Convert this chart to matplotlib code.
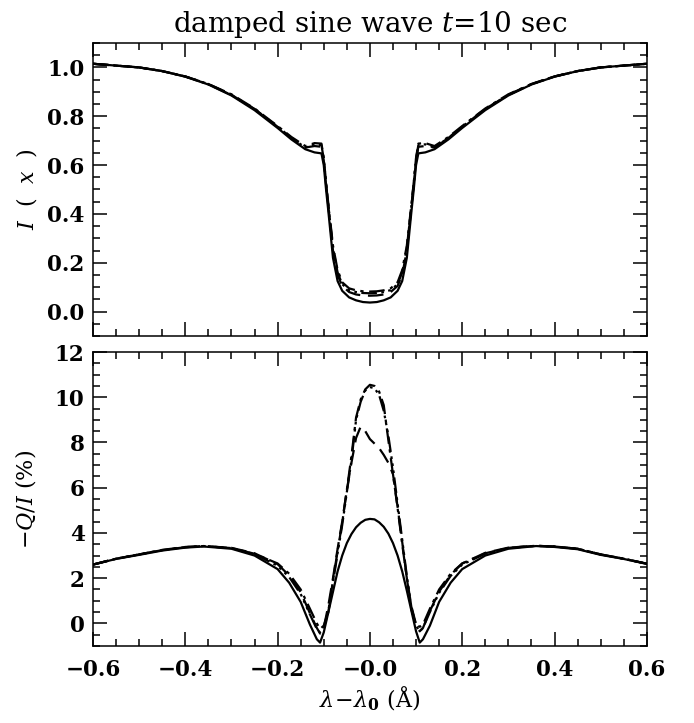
import matplotlib

matplotlib.use("Agg")
import matplotlib.pyplot as plt  # noqa: E402
from matplotlib.ticker import MultipleLocator  # noqa: E402

# ---- top panel: intensity profiles ----
x_top = [-0.6, -0.5, -0.45, -0.4, -0.35, -0.3, -0.25, -0.2, -0.17, -0.14, -0.12,
         -0.105, -0.1, -0.095, -0.09, -0.08, -0.07, -0.06, -0.045, -0.03, -0.015, 0.0,
         0.015, 0.03, 0.045, 0.06, 0.07, 0.08, 0.09, 0.095, 0.1, 0.105, 0.12, 0.14,
         0.17, 0.2, 0.25, 0.3, 0.35, 0.4, 0.45, 0.5, 0.6]
i_solid = [1.015, 1.0, 0.985, 0.962, 0.93, 0.885, 0.825, 0.752, 0.705, 0.665, 0.652,
           0.648, 0.60, 0.50, 0.41, 0.22, 0.125, 0.085, 0.058, 0.046, 0.039, 0.037,
           0.039, 0.046, 0.058, 0.085, 0.125, 0.22, 0.41, 0.50, 0.60, 0.648, 0.652, 0.665,
           0.705, 0.752, 0.825, 0.885, 0.93, 0.962, 0.985, 1.0, 1.015]
i_dash = [1.015, 1.0, 0.985, 0.963, 0.932, 0.888, 0.83, 0.757, 0.71, 0.672, 0.678,
          0.675, 0.62, 0.52, 0.43, 0.25, 0.15, 0.105, 0.08, 0.07, 0.066, 0.065,
          0.066, 0.07, 0.08, 0.105, 0.15, 0.25, 0.43, 0.52, 0.62, 0.675, 0.678, 0.672,
          0.71, 0.757, 0.83, 0.888, 0.932, 0.963, 0.985, 1.0, 1.015]
i_dashdot = [1.015, 1.0, 0.985, 0.963, 0.932, 0.89, 0.832, 0.76, 0.715, 0.678, 0.69,
             0.688, 0.63, 0.53, 0.44, 0.27, 0.17, 0.12, 0.095, 0.087, 0.083, 0.082,
             0.083, 0.087, 0.095, 0.12, 0.17, 0.27, 0.44, 0.53, 0.63, 0.688, 0.69, 0.678,
             0.715, 0.76, 0.832, 0.89, 0.932, 0.963, 0.985, 1.0, 1.015]
i_dash3dot = [1.015, 1.0, 0.985, 0.963, 0.931, 0.887, 0.829, 0.758, 0.711, 0.672, 0.685,
              0.682, 0.625, 0.525, 0.435, 0.26, 0.16, 0.112, 0.088, 0.08, 0.076, 0.075,
              0.076, 0.08, 0.088, 0.112, 0.16, 0.26, 0.435, 0.525, 0.625, 0.682, 0.685, 0.672,
              0.711, 0.758, 0.829, 0.887, 0.931, 0.963, 0.985, 1.0, 1.015]

# ---- bottom panel: -Q/I in percent ----
x_bot = [-0.6, -0.55, -0.5, -0.45, -0.4, -0.36, -0.3, -0.25, -0.2, -0.175, -0.15, -0.13,
         -0.115, -0.108, -0.1, -0.09, -0.08, -0.07, -0.06, -0.05, -0.04, -0.03, -0.02,
         -0.01, 0.0, 0.01, 0.02, 0.03, 0.04, 0.05, 0.06, 0.07, 0.08, 0.09, 0.1, 0.108,
         0.115, 0.13, 0.15, 0.175, 0.2, 0.25, 0.3, 0.36, 0.4, 0.45, 0.5, 0.55, 0.6]
q_solid = [2.6, 2.85, 3.03, 3.22, 3.35, 3.4, 3.3, 3.0, 2.4, 1.8, 0.95, -0.05,
           -0.7, -0.85, -0.4, 0.5, 1.4, 2.3, 3.0, 3.55, 3.95, 4.25, 4.45,
           4.58, 4.62, 4.6, 4.47, 4.27, 3.97, 3.55, 3.0, 2.3, 1.45, 0.55, -0.35, -0.85,
           -0.7, -0.1, 0.95, 1.8, 2.4, 3.0, 3.3, 3.42, 3.38, 3.28, 3.03, 2.85, 2.63]
q_dash = [2.6, 2.86, 3.05, 3.25, 3.38, 3.42, 3.34, 3.1, 2.62, 2.12, 1.38, 0.45,
          -0.2, -0.45, -0.2, 0.8, 2.0, 3.3, 4.5, 5.9, 7.1, 8.2, 8.7,
          8.5, 8.15, 7.95, 7.75, 7.45, 7.1, 6.6, 5.15, 3.6, 2.0, 0.75, -0.05, -0.35,
          -0.2, 0.55, 1.4, 2.15, 2.65, 3.12, 3.35, 3.43, 3.4, 3.3, 3.05, 2.86, 2.64]
q_dashdot = [2.6, 2.86, 3.05, 3.24, 3.37, 3.42, 3.33, 3.08, 2.65, 2.2, 1.5, 0.65,
             0.0, -0.25, -0.1, 0.55, 1.9, 3.2, 4.45, 5.9, 7.4, 9.1, 9.9,
             10.35, 10.55, 10.5, 10.25, 9.65, 8.1, 6.6, 5.1, 3.5, 2.0, 0.6, -0.05, -0.15,
             -0.05, 0.65, 1.5, 2.2, 2.65, 3.1, 3.34, 3.43, 3.4, 3.3, 3.05, 2.86, 2.64]
q_dash3dot = [2.6, 2.86, 3.05, 3.24, 3.37, 3.42, 3.33, 3.06, 2.55, 2.05, 1.3, 0.4,
              -0.25, -0.4, -0.2, 0.5, 1.8, 3.1, 4.35, 5.8, 7.2, 9.0, 9.8,
              10.3, 10.45, 10.4, 10.1, 9.4, 8.3, 6.9, 5.3, 3.7, 2.1, 0.7, -0.1, -0.35,
              -0.2, 0.5, 1.35, 2.1, 2.6, 3.08, 3.34, 3.43, 3.4, 3.3, 3.05, 2.86, 2.64]

STYLES = [
    ("-", i_solid, q_solid),
    ((0, (7, 3.5)), i_dash, q_dash),
    ((0, (7, 2.5, 1.5, 2.5)), i_dashdot, q_dashdot),
    ((0, (7, 2, 1.2, 2, 1.2, 2, 1.2, 2)), i_dash3dot, q_dash3dot),
]

plt.rcParams["font.family"] = ["DejaVu Serif"]
plt.rcParams["mathtext.fontset"] = "dejavuserif"

fig = plt.figure(figsize=(6.94, 7.23), dpi=100)
ax1 = fig.add_axes([0.134, 0.5353, 0.798, 0.4052])
ax2 = fig.add_axes([0.134, 0.1065, 0.798, 0.4066])

for ls, iv, qv in STYLES:
    ax1.plot(x_top, iv, color="black", lw=1.6, linestyle=ls)
    ax2.plot(x_bot, qv, color="black", lw=1.6, linestyle=ls)

for ax in (ax1, ax2):
    ax.set_xlim(-0.6, 0.6)
    ax.xaxis.set_major_locator(MultipleLocator(0.2))
    ax.xaxis.set_minor_locator(MultipleLocator(0.05))
    ax.tick_params(which="both", direction="in", top=True, right=True, width=1.1,
                   labelsize=15.5)
    ax.tick_params(which="major", length=10)
    ax.tick_params(which="minor", length=5)
    ax.tick_params(axis="x", pad=9)
    ax.tick_params(axis="y", pad=6)
    for sp in ax.spines.values():
        sp.set_linewidth(1.1)

ax1.set_ylim(-0.1, 1.1)
ax1.yaxis.set_minor_locator(MultipleLocator(0.05))
ax1.set_yticks([0.0, 0.2, 0.4, 0.6, 0.8, 1.0])
ax1.set_yticklabels(["0.0", "0.2", "0.4", "0.6", "0.8", "1.0"], fontweight="bold")
ax1.tick_params(labelbottom=False)
ax1.set_ylabel(r"$I$  (  $x$  )", fontsize=16, labelpad=6)
ax1.set_title(r"damped sine wave $t$=10 sec", fontsize=20, pad=8)

ax2.set_ylim(-1.0, 12.0)
ax2.set_yticks([0, 2, 4, 6, 8, 10, 12])
ax2.yaxis.set_minor_locator(MultipleLocator(0.5))
ax2.set_yticklabels(["0", "2", "4", "6", "8", "10", "12"], fontweight="bold")
ax2.set_xticks([-0.6, -0.4, -0.2, 0.0, 0.2, 0.4, 0.6])
ax2.set_xticklabels(["\u22120.6", "\u22120.4", "\u22120.2", "\u22120.0", "0.2", "0.4", "0.6"],
                    fontweight="bold")
ax2.set_ylabel(r"$-Q/I$ (%)", fontsize=16, labelpad=12)
ax2.set_xlabel(r"$\lambda\!-\!\lambda_{\mathbf{0}}$ (Å)", fontsize=16, labelpad=3)

fig.savefig("out.png", dpi=100)
